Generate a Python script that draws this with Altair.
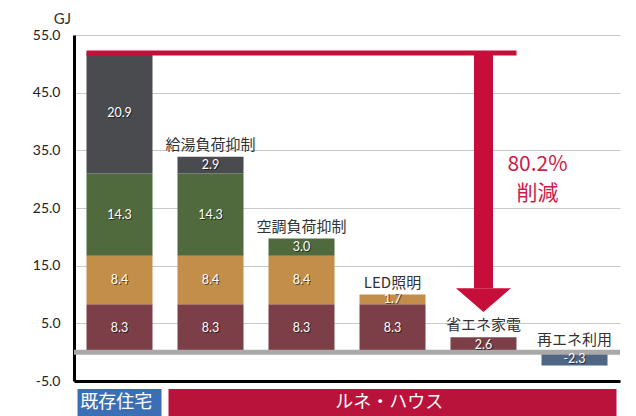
import altair as alt
import pandas as pd

categories = ["既存住宅", "給湯負荷抑制", "空調負荷抑制", "LED照明", "省エネ家電", "再エネ利用"]
segments = ["家電", "照明", "冷暖房", "給湯", "再エネ"]
seg_colors = ["#7c3f48", "#c38d4a", "#506a3e", "#4a4b4f", "#4f6785"]
appliance = [8.3, 8.3, 8.3, 8.3, 2.6, None]
lighting = [8.4, 8.4, 8.4, 1.7, None, None]
hvac = [14.3, 14.3, 3.0, None, None, None]
hotwater = [20.9, 2.9, None, None, None, None]
renewable = [None, None, None, None, None, -2.3]
bar_labels = ["", "給湯負荷抑制", "空調負荷抑制", "LED照明", "省エネ家電", "再エネ利用"]
reduction_text = ["80.2%", "削減"]
group_labels = ["既存住宅", "ルネ・ハウス"]
y_ticks = [-5, 5, 15, 25, 35, 45, 55]

series = [appliance, lighting, hvac, hotwater, renewable]
rows = []
totals = []
for i, cat in enumerate(categories):
    pos, neg = 0.0, 0.0
    for s, vals in zip(segments, series):
        v = vals[i]
        if v is None:
            continue
        if v >= 0:
            y0, y1 = pos, pos + v
            pos = y1
        else:
            y0, y1 = neg, neg + v
            neg = y1
        rows.append({"cat": cat, "seg": s, "y0": y0, "y1": y1,
                     "mid": (y0 + y1) / 2, "label": f"{v:.1f}"})
    totals.append(pos + neg)
df = pd.DataFrame(rows)
lab_df = pd.DataFrame({"cat": categories, "label": bar_labels,
                       "y": [max(t, 0) for t in totals]})
lab_df = lab_df[lab_df.label != ""]

CRIMSON = "#c70d3a"
W, H = 546, 346

xscale = alt.Scale(domain=categories, paddingInner=0.2747, paddingOuter=0.1374)
yscale = alt.Scale(domain=[-5, 55], nice=False, zero=False)
x_axis = alt.Axis(labels=False, ticks=False, title=None, domainColor="#000",
                  domainWidth=3, grid=False)
y_axis = alt.Axis(values=y_ticks,
                  labelExpr="replace(format(datum.value, '.1f'), '\u2212', '-')",
                  labelFont="Lato", labelFontSize=14,
                  labelColor="#222", ticks=False, labelPadding=14,
                  domainColor="#000", domainWidth=3, grid=True,
                  gridColor="#c9c9c9", gridWidth=1.2,
                  title="GJ", titleAngle=0, titleX=-12, titleY=-12,
                  titleFont="Lato", titleFontSize=15, titleFontWeight="normal",
                  titleColor="#333", titleAlign="center", titleBaseline="alphabetic")

def X(field="cat:N", **kw):
    return alt.X(field, scale=xscale, axis=x_axis, **kw)

def Y(field, **kw):
    return alt.Y(field, scale=yscale, axis=y_axis, **kw)

bars = alt.Chart(df).mark_bar().encode(
    x=X(), y=Y("y0:Q"), y2="y1:Q",
    color=alt.Color("seg:N", scale=alt.Scale(domain=segments, range=seg_colors), legend=None),
)

zero = alt.Chart(pd.DataFrame({"v": [0]})).mark_rule(color="#a9a9a9", strokeWidth=5).encode(
    y=Y("v:Q"))

shadow = alt.Chart(df).mark_text(font="Lato", fontSize=12.5, color="#000", opacity=0.55,
                                 dx=1, dy=1, baseline="middle").encode(
    x=X(), y=Y("mid:Q"), text="label:N")
vals = alt.Chart(df).mark_text(font="Lato", fontSize=12.5, color="#fff",
                               baseline="middle").encode(
    x=X(), y=Y("mid:Q"), text="label:N")

cat_labels = alt.Chart(lab_df).mark_text(font="Noto Sans CJK JP", fontSize=15, color="#333",
                                         baseline="bottom", dy=-4).encode(
    x=X(), y=Y("y:Q"), text="label:N")

arrow_df = pd.DataFrame({"start": [categories[0]], "end": [categories[4]],
                         "top": [totals[0]], "head": [11.1]})
red_line = alt.Chart(arrow_df).mark_rule(color=CRIMSON, strokeWidth=5).encode(
    x=X("start:N", bandPosition=0), x2=alt.X2("end:N", bandPosition=1), y=Y("top:Q"))
shaft = alt.Chart(arrow_df).mark_rule(color=CRIMSON, strokeWidth=19, strokeCap="butt").encode(
    x=X("end:N"), y=Y("top:Q"), y2="head:Q")
head = alt.Chart(arrow_df).mark_point(shape="M-1,0L1,0L0,0.87Z", size=3025, filled=True,
                                      color=CRIMSON, opacity=1, strokeWidth=0).encode(
    x=X("end:N"), y=Y("head:Q"))

red_df = pd.DataFrame({"cat": [categories[4]] * 2, "t": reduction_text, "y": [32.5, 27.5]})
red_text = alt.Chart(red_df).mark_text(font="Noto Sans CJK JP", fontSize=21, color="#cc1a4a",
                                       baseline="middle", dx=54).encode(
    x=X(), y=Y("y:Q"), text="t:N")

box_df = pd.DataFrame({"start": [categories[0], categories[1]],
                       "end": [categories[0], categories[5]],
                       "mid": [categories[0], categories[3]],
                       "label": group_labels,
                       "col": ["#3a6fb6", "#b9133b"]})
# stroke of the same colour widens each box slightly beyond its bands
boxes = alt.Chart(box_df).mark_rect(strokeWidth=18, strokeJoin="miter").encode(
    x=X("start:N", bandPosition=0), x2=alt.X2("end:N", bandPosition=1),
    y=alt.value(H + 17), y2=alt.value(H + 27),
    color=alt.Color("col:N", scale=None),
    stroke=alt.Stroke("col:N", scale=None))
box_text = alt.Chart(box_df).mark_text(font="Noto Sans CJK JP", fontSize=18, color="#fff",
                                       baseline="middle").encode(
    x=X("mid:N", bandPosition=0.45), y=alt.value(H + 22), text="label:N")

chart = alt.layer(bars, zero, shadow, vals, cat_labels, red_line, shaft, head, red_text,
                  boxes, box_text).properties(
    width=W, height=H,
    autosize=alt.AutoSizeParams(type="none"),
    padding={"left": 66, "top": 27, "right": 8, "bottom": 35},
).configure_view(stroke=None)

chart.save("out.html", embed_options={"renderer": "svg", "actions": False})
